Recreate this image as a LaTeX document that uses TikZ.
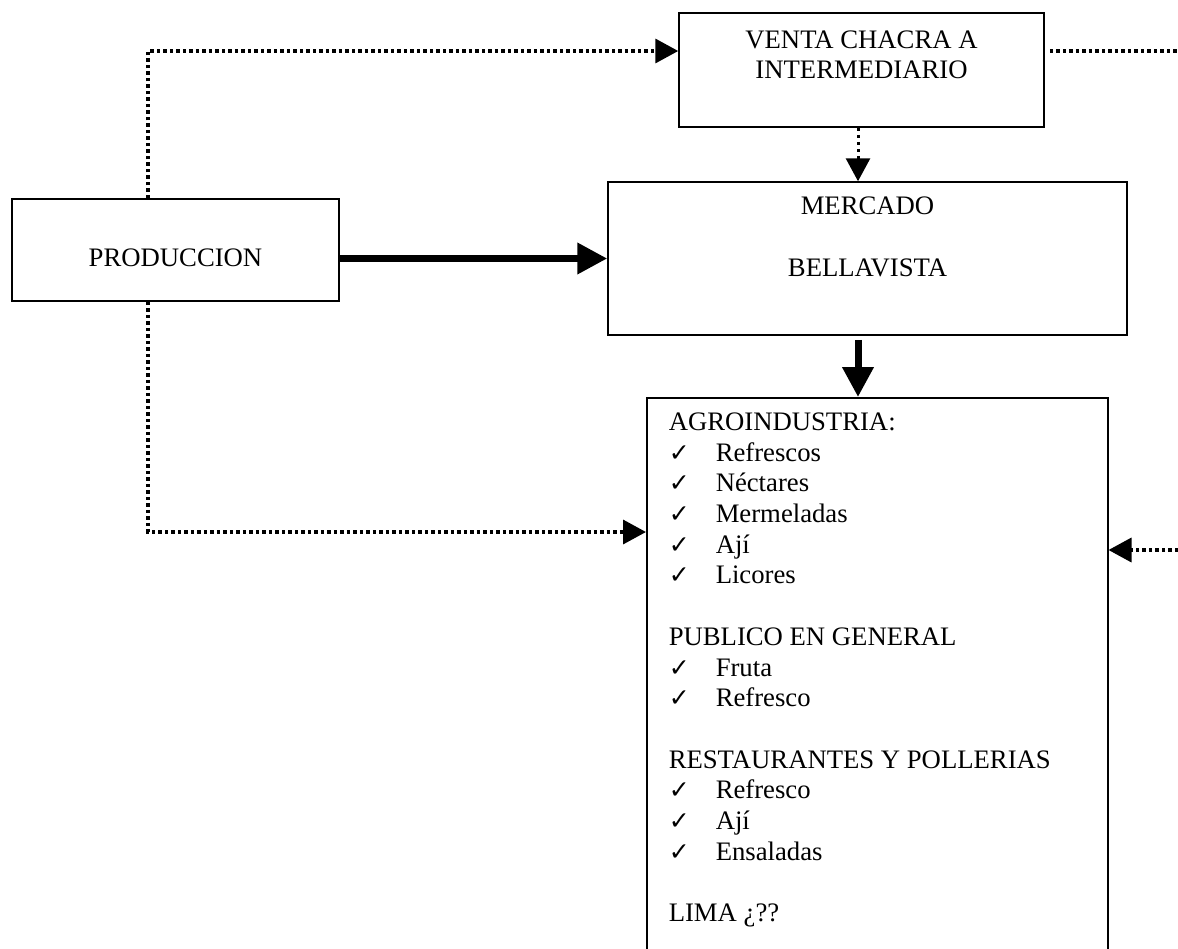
\documentclass[tikz,border=0pt]{standalone}
\usepackage{fontspec}
\setmainfont{Liberation Serif}
\newfontfamily\dejavu{DejaVu Sans}
\usetikzlibrary{arrows.meta,positioning}

\tikzset{
  caja/.style={draw, line width=1.5pt, align=center, font=\fontsize{26.7}{30.7}\selectfont},
  punteada/.style={line width=3.5pt, dash pattern=on 3.5pt off 3pt},
  puntos/.style={line width=3pt, dash pattern=on 3pt off 4pt},
  flecha/.style={-{Triangle[length=23pt,width=24pt]}},
  gruesa/.style={line width=7pt, -{Triangle[length=30pt,width=30pt]}}
}
\newcommand{\chk}{\makebox[47pt][l]{\dejavu\fontsize{25}{25}\selectfont ✓}}

\begin{document}
\begin{tikzpicture}[x=1pt,y=-1pt]
        \useasboundingbox (0,0) rectangle (1178,948);
        \clip (0,0) rectangle (1178,948);
        \node[caja, minimum width=327pt, minimum height=102pt, text height=32pt, text depth=0pt] (prod) at (175.5,250) {PRODUCCION};
        \node[caja, minimum width=365pt, minimum height=114pt] (venta) at (861.5,70) {VENTA CHACRA A\\INTERMEDIARIO\\ ~};
        \node[caja, minimum width=519pt, minimum height=153pt] (mercado) at (867.5,258.5) {MERCADO\\ ~\\BELLAVISTA\\[13pt] ~};
        \node[caja, anchor=north west, align=left, inner xsep=22pt, inner ysep=15pt] (usos) at (646,397)
        {\parbox[t][560pt][t]{417pt}{\raggedright
        AGROINDUSTRIA:\\
        \chk Refrescos\\
        \chk Néctares\\
        \chk Mermeladas\\
        \chk Ají\\
        \chk Licores\\[30.7pt]
        PUBLICO EN GENERAL\\
        \chk Fruta\\
        \chk Refresco\\[30.7pt]
        RESTAURANTES Y POLLERIAS\\
        \chk Refresco\\
        \chk Ají\\
        \chk Ensaladas\\[30.7pt]
        LIMA ¿??}};
        \coordinate (codoA) at (148,51);
        \coordinate (codoB) at (148,532);
        \coordinate (ejeV) at (858,0);
        \coordinate (salida) at (1178,51);
        \coordinate (entrada) at (1178,550);
        \draw[punteada, flecha] (prod.north -| codoA) -- (codoA) -- (codoA -| venta.west);
        \draw[punteada, shorten <=5pt] (venta.east |- salida) -- (salida);
        \draw[puntos, flecha] (venta.south -| ejeV) -- (mercado.north -| ejeV);
        \draw[gruesa] (prod.east |- mercado.west) -- (mercado.west);
        \draw[gruesa, shorten <=4pt] (mercado.south -| ejeV) -- (usos.north -| ejeV);
        \draw[punteada, flecha] (prod.south -| codoB) -- (codoB) -- (codoB -| usos.west);
        \draw[punteada, flecha] (entrada) -- (entrada -| usos.east);
\end{tikzpicture}
\end{document}
